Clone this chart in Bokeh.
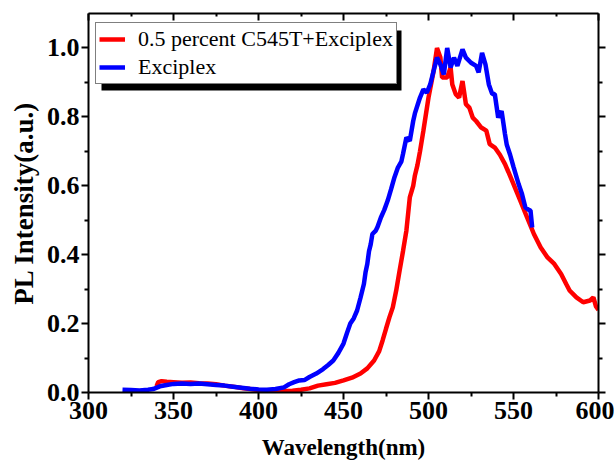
from bokeh.plotting import figure
from bokeh.models import (Legend, LegendItem, LinearAxis, FixedTicker, BoxAnnotation,
                          Range1d, NumeralTickFormatter)
from bokeh.embed import file_html
from bokeh.resources import INLINE

# ---- data ----
red_wl = [340, 341, 343, 346, 350, 355, 360, 365, 370, 375, 380, 385, 390, 395, 400,
          405, 410, 415, 420, 425, 430, 435, 440, 445, 450, 455, 460, 464, 468, 471,
          473, 475, 477, 479, 481, 483, 485, 487, 489, 491, 492, 493.5, 495, 497, 500,
          503, 505, 507, 508, 511, 513, 514, 516, 518, 520, 522, 524, 526, 528, 531,
          534, 536, 539, 542, 545, 547, 550, 554, 558, 562, 566, 570, 574, 578, 581,
          583, 587, 591, 595, 597, 598.5, 600]
red_int = [0.018, 0.030, 0.033, 0.031, 0.030, 0.028, 0.029, 0.027, 0.026, 0.024, 0.020,
           0.017, 0.013, 0.010, 0.007, 0.005, 0.004, 0.004, 0.005, 0.008, 0.012, 0.020,
           0.024, 0.028, 0.035, 0.043, 0.055, 0.070, 0.093, 0.120, 0.151, 0.185, 0.218,
           0.247, 0.296, 0.354, 0.410, 0.470, 0.566, 0.600, 0.630, 0.660, 0.700, 0.760,
           0.856, 0.933, 1.000, 0.972, 0.914, 0.914, 0.943, 0.894, 0.866, 0.856, 0.904,
           0.837, 0.827, 0.798, 0.788, 0.769, 0.760, 0.721, 0.711, 0.690, 0.663, 0.640,
           0.605, 0.557, 0.508, 0.460, 0.421, 0.392, 0.373, 0.344, 0.315, 0.296, 0.276,
           0.262, 0.267, 0.276, 0.250, 0.240]

blue_wl = [320, 325, 330, 335, 338, 342, 346, 350, 355, 360, 365, 370, 375, 380, 385,
           390, 395, 400, 405, 410, 415, 418, 421, 424, 427, 430, 434, 438, 441, 444,
           447, 450, 452, 454, 456, 458, 460, 462, 463, 464, 465, 466, 467, 469, 470,
           472, 474, 476, 478, 480, 482, 484, 485, 487, 489, 491, 492, 494, 495, 497,
           499, 501, 503, 505, 507, 509, 511, 513, 515, 517, 520, 522, 525, 528, 529.5,
           531.5, 533.5, 535.5, 537.5, 539, 541, 543, 545, 546, 548, 550, 553, 555, 557,
           559, 560, 561]
blue_int = [0.008, 0.007, 0.006, 0.008, 0.010, 0.018, 0.022, 0.025, 0.026, 0.025, 0.026,
            0.024, 0.022, 0.020, 0.017, 0.014, 0.011, 0.009, 0.008, 0.010, 0.015, 0.024,
            0.030, 0.035, 0.036, 0.045, 0.055, 0.068, 0.080, 0.093, 0.115, 0.142, 0.172,
            0.200, 0.215, 0.238, 0.275, 0.315, 0.350, 0.373, 0.410, 0.430, 0.460, 0.470,
            0.480, 0.508, 0.530, 0.557, 0.590, 0.625, 0.653, 0.670, 0.692, 0.740, 0.730,
            0.788, 0.810, 0.841, 0.856, 0.880, 0.870, 0.894, 0.933, 0.972, 0.952, 0.923,
            1.000, 0.943, 0.972, 0.948, 0.996, 0.972, 0.957, 0.948, 0.929, 0.986, 0.952,
            0.894, 0.866, 0.866, 0.798, 0.817, 0.750, 0.720, 0.690, 0.655, 0.605, 0.576,
            0.537, 0.530, 0.528, 0.479]

series_names = ["0.5 percent C545T+Exciplex", "Exciplex"]
x_ticks = [300, 350, 400, 450, 500, 550, 600]
x_minor = [325, 375, 425, 475, 525, 575]
y_ticks = [0.0, 0.2, 0.4, 0.6, 0.8, 1.0]
y_minor = [0.1, 0.3, 0.5, 0.7, 0.9]

FONT = "Liberation Serif"
X0, X1 = 300, 600
Y0, Y1 = 0.0, 1.1
W, H = 614, 464
ML, MR, MT, MB = 88, 16, 13, 72

p = figure(width=W, height=H, x_range=Range1d(X0, X1), y_range=Range1d(Y0, Y1),
           output_backend="svg", toolbar_location=None,
           min_border_left=ML, min_border_right=MR, min_border_top=MT, min_border_bottom=MB)
p.grid.visible = False
p.outline_line_color = None
p.background_fill_color = "white"
p.border_fill_color = "white"

r_red = p.line(red_wl, red_int, line_color="#FF0000", line_width=4.5)
r_blue = p.line(blue_wl, blue_int, line_color="#0000FF", line_width=4.5)


def style_axis(ax, ticks, minor, tick_in, tick_out, minor_in, minor_out, labels=True):
    ax.ticker = FixedTicker(ticks=ticks, minor_ticks=minor)
    ax.axis_line_width = 2
    ax.axis_line_color = "black"
    ax.major_tick_line_width = 2
    ax.minor_tick_line_width = 2
    ax.major_tick_in = tick_in
    ax.major_tick_out = tick_out
    ax.minor_tick_in = minor_in
    ax.minor_tick_out = minor_out
    ax.major_label_text_font = FONT
    ax.major_label_text_font_style = "bold"
    ax.major_label_text_font_size = "26px"
    ax.major_label_text_color = "black"
    ax.axis_label_text_font = FONT
    ax.axis_label_text_font_style = "bold"
    ax.axis_label_text_font_size = "23px"
    ax.axis_label_text_color = "black"
    if not labels:
        ax.major_label_text_font_size = "0px"
        ax.major_label_text_alpha = 0


xa = p.xaxis[0]
style_axis(xa, x_ticks, x_minor, 0, 7, 0, 4)
xa.axis_label = "Wavelength(nm)"
xa.major_label_standoff = 2
xa.axis_label_standoff = 13

ya = p.yaxis[0]
style_axis(ya, y_ticks, y_minor, 0, 7, 0, 4)
ya.axis_label = "PL Intensity(a.u.)"
ya.axis_label_text_font_size = "27px"
ya.formatter = NumeralTickFormatter(format="0.0")
ya.major_label_standoff = 2
ya.axis_label_standoff = 5

top = LinearAxis()
style_axis(top, x_ticks, x_minor, 7, 0, 3, 0, labels=False)
p.add_layout(top, "above")

right = LinearAxis()
style_axis(right, y_ticks, y_minor, 0, 7, 0, 4, labels=False)
p.add_layout(right, "right")

# legend shadow (screen pixel box converted to data units)
def px_x(px):
    return X0 + (px - ML) * (X1 - X0) / (W - ML - MR)

def px_y(py):
    return Y1 - (py - MT) * (Y1 - Y0) / (H - MT - MB)

shadow = BoxAnnotation(left=px_x(101), right=px_x(401), top=px_y(30), bottom=px_y(90),
                       fill_color="black", fill_alpha=1.0, line_color=None)
p.add_layout(shadow)

legend = Legend(items=[LegendItem(label=series_names[0], renderers=[r_red]),
                       LegendItem(label=series_names[1], renderers=[r_blue])],
                location=(7, 308))
legend.label_text_font = FONT
legend.label_text_font_size = "22px"
legend.label_text_color = "black"
legend.glyph_width = 26
legend.glyph_height = 24
legend.label_height = 24
legend.label_standoff = 13
legend.spacing = 2
legend.padding = 3
legend.margin = 0
legend.border_line_color = "black"
legend.border_line_width = 1
legend.background_fill_color = "white"
legend.background_fill_alpha = 1.0
p.add_layout(legend, "center")

open("out.html", "w").write(file_html(p, INLINE))
